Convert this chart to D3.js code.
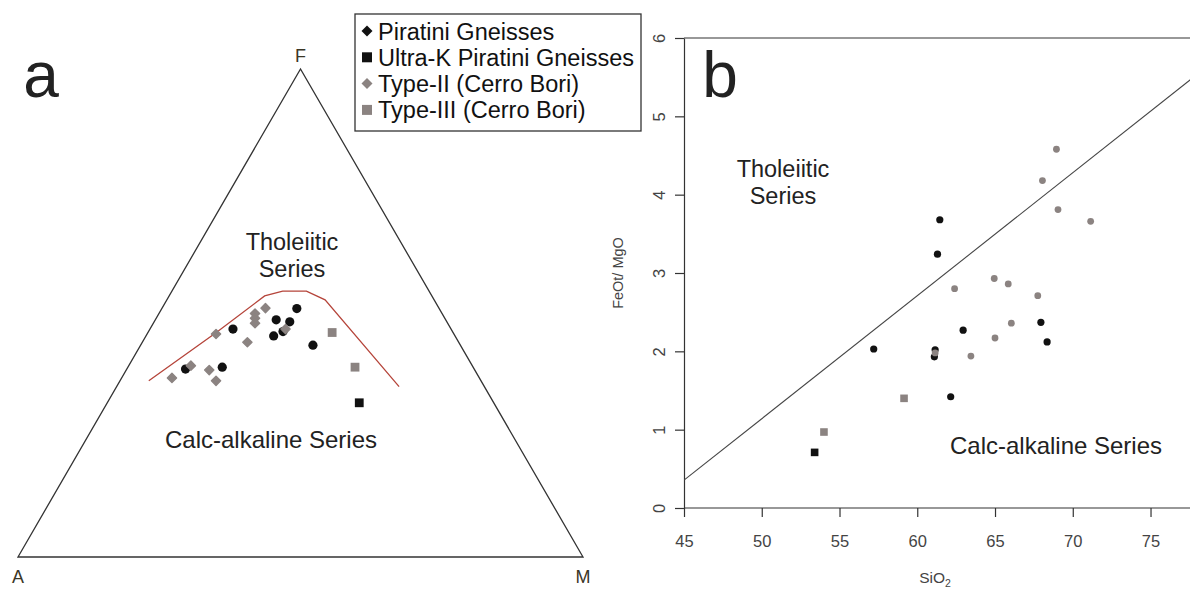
<!DOCTYPE html>
<html><head><meta charset="utf-8">
<script src="https://cdn.jsdelivr.net/npm/d3@7/dist/d3.min.js"></script>
<style>body{margin:0;background:#fff;} svg{display:block;font-family:"Liberation Sans",Arial,sans-serif;}</style>
</head><body><svg id="c" width="1190" height="590"></svg>
<script>
// ---------- DATA ----------
const seriesNames = ["Piratini Gneisses","Ultra-K Piratini Gneisses","Type-II (Cerro Bori)","Type-III (Cerro Bori)"];
// AFM ternary (A, F, M in %)
const piratiniAFM = [[25.2,50.9,23.9],[30.0,48.6,21.4],[27.8,48.2,24.0],[30.0,46.2,23.8],[32.1,45.3,22.6],[38.6,46.7,14.7],[26.1,43.4,30.5],[44.4,38.9,16.7],[51.1,38.5,10.4]];
const ultraKAFM = [[23.8,31.6,44.6]];
const typeIIAFM = [[30.7,51.0,18.3],[33.1,49.9,17.0],[33.6,48.9,17.5],[34.1,47.9,18.0],[42.1,45.7,12.2],[37.4,44.0,18.6],[29.3,46.7,24.0],[49.8,39.2,11.0],[54.4,36.7,8.9],[47.0,38.3,14.7],[46.9,36.1,17.0]];
const typeIIIAFM = [[21.4,46.0,32.6],[20.9,38.9,40.2]];
const boundaryAFM = [[58.8,36.1,5.1],[41.9,46.0,12.1],[29.6,53.5,16.9],[25.9,54.5,19.6],[21.7,54.5,23.8],[19.3,52.7,28.0],[15.1,34.9,50.0]];
const vertexAFM = [[100,0,0],[0,100,0],[0,0,100]];
// SiO2 vs FeOt/MgO
const piratiniSiO2 = [57.2,61.1,61.15,61.3,61.45,62.15,62.95,67.95,68.35];
const piratiniFeMg = [2.03,1.93,2.02,3.24,3.68,1.42,2.27,2.37,2.12];
const ultraKSiO2 = [53.4];
const ultraKFeMg = [0.71];
const typeIISiO2 = [61.15,62.4,63.45,64.95,65.0,65.85,66.05,67.75,68.05,68.95,69.05,71.15];
const typeIIFeMg = [1.98,2.80,1.94,2.93,2.17,2.86,2.36,2.71,4.18,4.58,3.81,3.66];
const typeIIISiO2 = [54.0,59.15];
const typeIIIFeMg = [0.97,1.40];
const lineSiO2 = [45,80];
const lineFeMg = [0.355,5.85];
const xTicks = [45,50,55,60,65,70,75];
const yTicks = [0,1,2,3,4,5,6];

// ---------- STYLE ----------
const BLACK = "#111", GREY = "#8b8381", RED = "#b5443a", INK = "#333";
const svg = d3.select("#c");
svg.append("rect").attr("width",1190).attr("height",590).attr("fill","#fff");

// ---------- PANEL A : ternary ----------
const tx = d3.scaleLinear().domain([0,100]).range([18,583]);   // M + F/2
const ty = d3.scaleLinear().domain([0,100]).range([557,69]);   // F
const P = d => [tx(d[2] + d[1]/2), ty(d[1])];
const ga = svg.append("g");
ga.append("path").attr("d", d3.line()(vertexAFM.map(P)) + "Z")
  .attr("fill","none").attr("stroke",INK).attr("stroke-width",1.3);
ga.append("path").attr("d", d3.line()(boundaryAFM.map(P)))
  .attr("fill","none").attr("stroke",RED).attr("stroke-width",1.3);

const diamond = s => `M0,${-s}L${s},0L0,${s}L${-s},0Z`;
const square = s => `M${-s},${-s}H${s}V${s}H${-s}Z`;

ga.selectAll(".pa").data(piratiniAFM).join("circle")
  .attr("cx",d=>P(d)[0]).attr("cy",d=>P(d)[1]).attr("r",4.6).attr("fill",BLACK);
ga.selectAll(".ta").data(typeIIAFM).join("path")
  .attr("transform",d=>`translate(${P(d)})`).attr("d",diamond(4.6))
  .attr("fill",GREY).attr("stroke",GREY).attr("stroke-width",1.4).attr("stroke-linejoin","round");
ga.selectAll(".t3a").data(typeIIIAFM).join("path")
  .attr("transform",d=>`translate(${P(d)})`).attr("d",square(4.4)).attr("fill",GREY);
ga.selectAll(".ua").data(ultraKAFM).join("path")
  .attr("transform",d=>`translate(${P(d)})`).attr("d",square(4.4)).attr("fill",BLACK);

const lbl = (g,x,y,t,size,anchor="middle",fill="#222") => g.append("text").attr("x",x).attr("y",y)
  .attr("font-size",size).attr("text-anchor",anchor).attr("fill",fill).text(t);
const vA = P(vertexAFM[0]), vF = P(vertexAFM[1]), vM = P(vertexAFM[2]);
lbl(ga, vF[0], vF[1]-7, "F", 18, "middle", "#3a3626");
lbl(ga, vA[0], vA[1]+26, "A", 18, "middle", "#3a3626");
lbl(ga, vM[0], vM[1]+26, "M", 18, "middle", "#3a3626");
lbl(ga, 41, 97, "a", 64);
lbl(ga, 292, 250, "Tholeiitic", 23.5);
lbl(ga, 292, 277, "Series", 23.5);
lbl(ga, 271, 448, "Calc-alkaline Series", 24);

// ---------- PANEL B : SiO2 vs FeOt/MgO ----------
const x = d3.scaleLinear().domain([45,77.5]).range([684,1189.4]);
const y = d3.scaleLinear().domain([0,6]).range([508,38]);
const gb = svg.append("g");
gb.append("clipPath").attr("id","pc").append("rect")
  .attr("x",684).attr("y",38).attr("width",506).attr("height",470);

// box (top, left) + axes
gb.append("line").attr("x1",x(45)).attr("x2",1190).attr("y1",y(6)).attr("y2",y(6)).attr("stroke",INK).attr("stroke-width",1.2);
const xAxis = gb.append("g").attr("transform",`translate(0,${y(0)})`)
  .call(d3.axisBottom(x).tickValues(xTicks).tickFormat(d3.format("d")).tickSize(9).tickSizeOuter(0));
xAxis.select(".domain").attr("d",`M${x(45)},0H1190`);
const yAxis = gb.append("g").attr("transform",`translate(${x(45)},0)`)
  .call(d3.axisLeft(y).tickValues(yTicks).tickFormat(d3.format("d")).tickSize(9).tickSizeOuter(0));
[xAxis,yAxis].forEach(a=>{
  a.selectAll("path,line").attr("stroke",INK).attr("stroke-width",1.2);
  a.selectAll("text").attr("fill","#444").attr("font-size",16.5).attr("font-family","Liberation Sans, Arial, sans-serif");
});
xAxis.selectAll("text").attr("y",27);
yAxis.selectAll("text").attr("transform","rotate(-90)").attr("x",0).attr("y",-19).attr("dy",0).attr("text-anchor","middle");

// Miyashiro line
gb.append("path").attr("clip-path","url(#pc)")
  .attr("d", d3.line()(lineSiO2.map((s,i)=>[x(s),y(lineFeMg[i])])))
  .attr("fill","none").attr("stroke","#444").attr("stroke-width",1.1);

const pts = (xs,ys)=>xs.map((s,i)=>[x(s),y(ys[i])]);
gb.selectAll(".pb").data(pts(piratiniSiO2,piratiniFeMg)).join("circle")
  .attr("cx",d=>d[0]).attr("cy",d=>d[1]).attr("r",3.6).attr("fill",BLACK);
gb.selectAll(".tb").data(pts(typeIISiO2,typeIIFeMg)).join("circle")
  .attr("cx",d=>d[0]).attr("cy",d=>d[1]).attr("r",3.4).attr("fill",GREY);
gb.selectAll(".t3b").data(pts(typeIIISiO2,typeIIIFeMg)).join("path")
  .attr("transform",d=>`translate(${d})`).attr("d",square(3.8)).attr("fill",GREY);
gb.selectAll(".ub").data(pts(ultraKSiO2,ultraKFeMg)).join("path")
  .attr("transform",d=>`translate(${d})`).attr("d",square(3.8)).attr("fill",BLACK);

lbl(gb, 720, 97, "b", 64);
lbl(gb, 783, 177, "Tholeiitic", 23.5);
lbl(gb, 783, 204, "Series", 23.5);
lbl(gb, 1056, 454, "Calc-alkaline Series", 24);
const xt = gb.append("text").attr("x",935).attr("y",583).attr("font-size",15.5).attr("text-anchor","middle").attr("fill","#444");
xt.append("tspan").text("SiO");
xt.append("tspan").attr("font-size",10.5).attr("dy",4).text("2");
gb.append("text").attr("transform",`translate(623,${(y(0)+y(6))/2}) rotate(-90)`)
  .attr("font-size",14.5).attr("text-anchor","middle").attr("fill","#444").text("FeOt/ MgO");

// ---------- LEGEND ----------
const lg = svg.append("g");
lg.append("rect").attr("x",355).attr("y",14).attr("width",286).attr("height",117)
  .attr("fill","#fff").attr("stroke",INK).attr("stroke-width",1.3);
const legColors = [BLACK,BLACK,GREY,GREY];
const legShapes = [diamond(5.5),square(5),diamond(5.5),square(5)];
seriesNames.forEach((n,i)=>{
  const cy = 31 + i*26.3;
  lg.append("path").attr("transform",`translate(367,${cy})`).attr("d",legShapes[i]).attr("fill",legColors[i]);
  lg.append("text").attr("x",378).attr("y",cy+8.5).attr("font-size",23.5).attr("fill","#111").text(n);
});
</script></body></html>
